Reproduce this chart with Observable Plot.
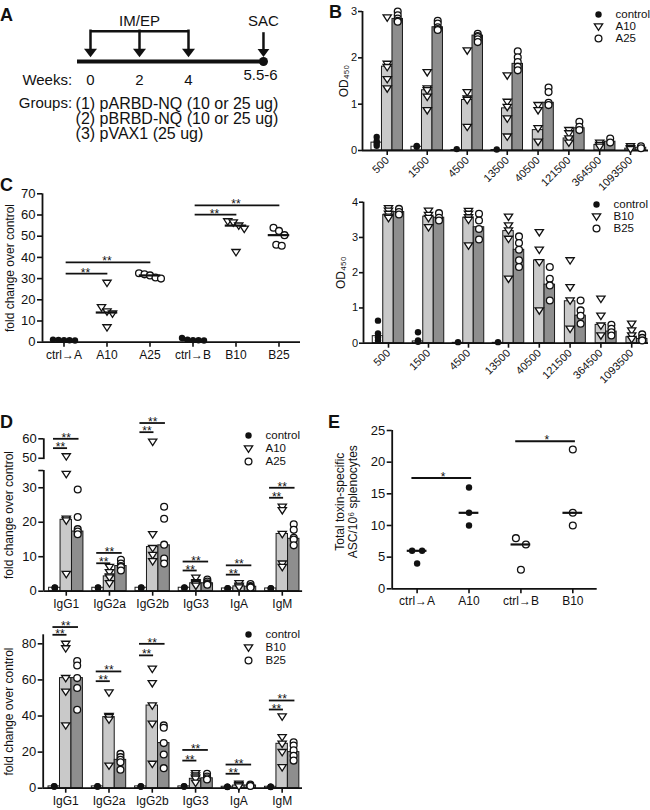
<!DOCTYPE html>
<html><head><meta charset="utf-8">
<script src="https://cdn.jsdelivr.net/npm/d3@7"></script>
<script src="https://cdn.jsdelivr.net/npm/@observablehq/plot@0.6"></script>
<style>
body{margin:0;background:#fff;}
#root{position:relative;width:650px;height:810px;font-family:"Liberation Sans",Arial,Helvetica,sans-serif;color:#111;}
#root svg{position:absolute;overflow:visible;}
.letter{position:absolute;font-weight:bold;font-size:18px;line-height:18px;}
#root svg [aria-label*="axis tick"]{stroke-width:1.6px;}
#root svg g[aria-label$="-axis"] line{stroke-width:1.6px;}
.cx [aria-label^="x-axis"] text{font-size:12px;}
.cx [aria-label^="y-axis"] text{font-size:13px;}
.bx [aria-label^="x-axis"] text{font-size:11px;}
.bx [aria-label^="y-axis"] text{font-size:11px;}
</style></head><body><div id="root"></div><script>
// ================= DATA =================
// Panel A (schedule)
const immunizationWeeks = [0, 2, 4];
const weekLabels = ["0", "2", "4"];
const sacLabel = "5.5-6";
const groupLines = ["(1) pARBD-NQ (10 or 25 ug)", "(2) pBRBD-NQ (10 or 25 ug)", "(3) pVAX1 (25 ug)"];

// Panel B (ELISA OD450 by dilution)
const dilutions = ["500","1500","4500","13500","40500","121500","364500","1093500"];
const bTopNames = ["control","A10","A25"];
const bTopControlBars = [0.17, 0.08, 0.01, 0.01, 0, 0, 0, 0];
const bTopA10Bars = [1.81, 1.3, 1.09, 0.91, 0.44, 0.26, 0.12, 0.04];
const bTopA25Bars = [2.84, 2.66, 2.48, 1.87, 1.03, 0.48, 0.19, 0.06];
const bTopControlPts = [[0.29,0.2,0.15,0.1],[0.1,0.08],[0.03],[0.02],[],[],[],[]];
const bTopA10Pts = [[2.87,1.87,1.8,1.54,1.34],[1.69,1.34,1.3,1.16,0.87],[2.16,1.26,1.12,1.09,0.51],[1.62,1.05,0.94,0.69,0.3],[0.98,0.87,0.48,0.19],[0.44,0.37,0.26,0.17],[0.17,0.12,0.08],[0.09,0.05,0.03]];
const bTopA25Pts = [[3.0,2.92,2.85,2.8,2.78],[2.8,2.74,2.66,2.62,2.6],[2.52,2.47,2.45,2.4,2.34],[2.14,2.01,1.91,1.81,1.73],[1.36,1.26,1.03,0.98],[0.62,0.51,0.44],[0.26,0.17],[0.09,0.05]];
const bTopTicks = [0, 1, 2, 3];

const bBotNames = ["control","B10","B25"];
const bBotControlBars = [0.2, 0.05, 0.01, 0.01, 0, 0, 0, 0];
const bBotB10Bars = [3.64, 3.59, 3.56, 3.18, 2.35, 1.19, 0.52, 0.17];
const bBotB25Bars = [3.72, 3.56, 3.29, 2.65, 1.66, 0.78, 0.33, 0.12];
const bBotControlPts = [[0.64,0.28,0.17,0.08],[0.31,0.08,0.04],[0.03],[0.03],[],[],[],[]];
const bBotB10Pts = [[3.83,3.76,3.67,3.59,3.55],[3.76,3.64,3.55,3.29],[3.75,3.67,3.57,3.5,2.77],[3.59,3.34,3.2,2.96,1.83],[3.15,2.65,2.3,0.93],[2.35,1.59,1.21,0.41],[1.26,0.78,0.5,0.22],[0.55,0.36,0.22,0.12]];
const bBotB25Pts = [[3.81,3.72,3.65],[3.69,3.56,3.48],[3.67,3.48,3.24,2.94],[3.03,2.84,2.65,2.35,2.16],[2.16,1.83,1.64,1.21],[1.21,0.93,0.78,0.55],[0.52,0.41,0.31,0.22],[0.25,0.15,0.08]];
const bBotTicks = [0, 1, 2, 3, 4];

// Panel C (fold change)
const cCats = ["ctrl\u2192A","A10","A25","ctrl\u2192B","B10","B25"];
const cKinds = ["ctrl","tri","circ","ctrl","tri","circ"];
const cValues = [[1.2,1.0,0.9,0.8,1.1],[28,16.5,14.5,13.5,7],[32.5,32,31.5,30.5,30],[2,1.2,1,0.9,0.8],[57,56.5,55,53.5,42.5],[54,52.5,50.5,46,45.5]];
const cMedians = [1, 14, 31.5, 1, 55, 50.5];
const cSig = [{a:0,b:1,y:32.3,label:"**"},{a:0,b:2,y:37.7,label:"**"},{a:3,b:4,y:60.2,label:"**"},{a:3,b:5,y:64.5,label:"**"}];
const cTicks = [0,10,20,30,40,50,60,70];

// Panel D (isotypes)
const dCats = ["IgG1","IgG2a","IgG2b","IgG3","IgA","IgM"];
const dTopNames = ["control","A10","A25"];
const dTopControlBars = [1, 1, 1, 1, 0.8, 0.8];
const dTopA10Bars = [20.7, 4.3, 12.8, 2.3, 1.4, 16.6];
const dTopA25Bars = [17.3, 7.3, 13.3, 2.3, 1.3, 15.2];
const dTopControlPts = [[1.1,0.9,1],[1,1.1,0.9],[1,0.9,1.1],[1,1.1,0.9],[0.8,0.9,0.7],[0.8,0.7,0.9]];
const dTopA10Pts = [[51,34,21,20.5,5],[7,5.5,4.3,4,2.3],[58.5,16.5,12.5,10.5,8.7],[3.9,2.6,2.3,2,1.6],[2.3,1.6,1.4,1.1],[24.5,23.5,16.6,8,7]];
const dTopA25Pts = [[29.5,21.5,18,17.3,16.5],[9.1,8,7.3,7,6],[24.5,21,13.5,9.5,8],[3.4,2.8,2.3,2.1,1.9],[2.1,1.5,1.3,1.1],[19.4,17.8,15.5,15,13.3]];
const dTopSig = [[55.2,60],[8.1,11.1],[63.4,68.1],[6,8.6],[4.8,7.5],[27.1,30]];
const dTopTickValues = [0,10,20,30,35,50,60];
const dTopAxisSegments = [[0,35],[49.3,60]];

const dBotNames = ["control","B10","B25"];
const dBotControlBars = [1, 1, 1, 1, 0.8, 0.8];
const dBotB10Bars = [61, 39.4, 45.8, 5.2, 1.5, 24.6];
const dBotB25Bars = [61, 15.7, 25, 5.5, 1.5, 20];
const dBotControlPts = [[1.1,0.9,1],[1,1.1,0.9],[1,0.9,1.1],[1,1.1,0.9],[0.8,0.9,0.7],[0.8,0.7,0.9]];
const dBotB10Pts = [[80,77.5,61,53.5,34.8],[53,40,39.4,38,12.5],[66.2,58.2,45.8,35.7,13.5],[8.3,7,6,5.2,3],[2.5,1.8,1.5,1],[39.7,28.3,24.6,20,11.6]];
const dBotB25Pts = [[70.5,68,61,55.5,43.5],[19,17.2,15.7,14.4,10.2],[34.8,33.5,25,18.7,11.1],[8,6.5,5.5,4.8],[2,1.5,1.2],[25.5,23.6,21,18,15.3]];
const dBotSig = [[85,89.3],[59.3,64.7],[73.6,80],[15.3,21.2],[8,13.1],[43.6,48.6]];
const dBotTicks = [0,20,40,60,80];

// Panel E (ASC)
const eCats = ["ctrl\u2192A","A10","ctrl\u2192B","B10"];
const eKinds = ["ctrl","ctrl","circ","circ"];
const eValues = [[6,6,4],[16,12,10],[8,7,3],[22,12,10]];
const eMedians = [6, 12, 7, 12];
const eSig = [{a:0,b:1,y:17.5,label:"*"},{a:2,b:3,y:23.3,label:"*"}];
const eTicks = [0,5,10,15,20,25];

// ================= HELPERS =================
const FONT = '"Liberation Sans", Arial, Helvetica, sans-serif';
const root = document.getElementById("root");
const INK = "#111";
const barFills = ["#ffffff", "#c9c9c9", "#8e8e8e"];
const baseStyle = {fontFamily: FONT, fontSize: "13px", background: "transparent", overflow: "visible", color: INK};

function tri(wf, tf, bf) {
  return {draw(ctx, size) {
    const r = Math.sqrt(size / Math.PI);
    ctx.moveTo(-wf * r, -tf * r); ctx.lineTo(wf * r, -tf * r); ctx.lineTo(0, bf * r); ctx.closePath();
  }};
}
const triDown = tri(1.15, 0.72, 1.05);
const arrowHead = tri(1.18, 0.78, 0.78);

function place(el, left, top, cls) {
  el.style.position = "absolute"; el.style.left = left + "px"; el.style.top = top + "px";
  el.style.overflow = "visible";
  if (cls) el.classList.add(cls);
  root.appendChild(el);
}
function letter(t, left, top) {
  const d = document.createElement("div"); d.className = "letter"; d.textContent = t;
  d.style.left = left + "px"; d.style.top = top + "px"; root.appendChild(d);
}
function symbolMark(rows, kind, yf) {
  const base = {x: "x", y: d => yf(d.v)};
  if (kind === "ctrl") return Plot.dot(rows, {...base, r: 3.2, fill: INK, stroke: null});
  if (kind === "tri") return Plot.dot(rows, {...base, r: 3.6, symbol: triDown, fill: "white", stroke: INK, strokeWidth: 1.3});
  return Plot.dot(rows, {...base, r: 3.4, fill: "white", stroke: INK, strokeWidth: 1.3});
}
// symmetric horizontal spreading of near-identical values (px offsets)
function spread(vals, pxPerUnit, tol, step) {
  const order = vals.map((_, i) => i).sort((a, b) => vals[b] - vals[a]);
  const off = vals.map(() => 0);
  let cl = [];
  const flush = () => { const n = cl.length; cl.forEach((j, k) => off[j] = (k - (n - 1) / 2) * step); };
  order.forEach(j => {
    if (cl.length && (vals[cl[cl.length - 1]] - vals[j]) * pxPerUnit >= tol) { flush(); cl = []; }
    cl.push(j);
  });
  flush();
  return off;
}
function legend(names, kinds, left, top, step, ml) {
  const items = names.map((n, i) => ({name: n, kind: kinds[i]}));
  const p = Plot.plot({
    width: 80, height: 8 + 2 * step + 8, marginTop: 8, marginBottom: 8, marginLeft: ml, marginRight: 0,
    y: {type: "point", domain: names, padding: 0, axis: null},
    style: baseStyle,
    marks: [
      ...["ctrl","tri","circ"].map(k => {
        const rows = items.filter(d => d.kind === k);
        const o = {y: "name", frameAnchor: "left"};
        if (k === "ctrl") return Plot.dot(rows, {...o, r: 3.2, fill: INK});
        if (k === "tri") return Plot.dot(rows, {...o, r: 3.6, symbol: triDown, fill: "white", stroke: INK, strokeWidth: 1.3});
        return Plot.dot(rows, {...o, r: 3.4, fill: "white", stroke: INK, strokeWidth: 1.3});
      }),
      Plot.text(items, {y: "name", text: "name", frameAnchor: "left", dx: 17, textAnchor: "start", fontSize: 11.5})
    ]
  });
  place(p, left - ml, top - 8);
}

// grouped bar + points chart (panels B and D)
function groupedChart(cfg) {
  const yf = cfg.yf || (v => v);
  const marks = [];
  const kinds = ["ctrl", "tri", "circ"];
  cfg.bars.forEach((arr, g) => {
    const rows = arr.map((v, i) => ({x: cfg.pos(i) + cfg.offsets[g], v})).filter(d => d.v > 0);
    marks.push(Plot.rect(rows, {x1: d => d.x - cfg.hw, x2: d => d.x + cfg.hw, y1: 0, y2: d => yf(d.v), fill: barFills[g], stroke: "#1a1a1a", strokeWidth: 1}));
  });
  marks.push(Plot.ruleY([0], {stroke: INK, strokeWidth: 1.8}));
  if (cfg.axisSegments) {
    marks.push(Plot.ruleX(cfg.axisSegments, {x: cfg.xDomain[0], y1: d => yf(d[0]), y2: d => yf(d[1]), stroke: INK, strokeWidth: 1.8}));
  } else {
    marks.push(Plot.ruleX([cfg.xDomain[0]], {stroke: INK, strokeWidth: 1.8}));
  }
  if (cfg.sig) {
    const sigRows = [];
    cfg.sig.forEach((pair, i) => {
      pair.forEach((y, k) => {
        const x1 = cfg.pos(i) + cfg.offsets[0] - 0.03, x2 = cfg.pos(i) + cfg.offsets[k + 1] + 0.03;
        sigRows.push({x1, x2, y: yf(y)});
      });
    });
    marks.push(Plot.ruleY(sigRows, {x1: "x1", x2: "x2", y: "y", stroke: INK, strokeWidth: 1.8}));
    marks.push(Plot.text(sigRows, {x: d => (d.x1 + d.x2) / 2, y: "y", text: () => "**", lineAnchor: "bottom", dy: 3, fontSize: 12}));
  }
  cfg.points.forEach((mat, g) => {
    const rows = [];
    mat.forEach((vals, i) => vals.forEach(v => rows.push({x: cfg.pos(i) + cfg.offsets[g], v})));
    marks.push(symbolMark(rows, kinds[g], yf));
  });
  marks.push(Plot.text([cfg.yLabel], {text: d => d, frameAnchor: "left", rotate: -90, dx: cfg.yLabelDx, fontSize: 12, textAnchor: "middle", lineAnchor: "middle"}));
  const tickPos = cfg.cats.map((_, i) => cfg.pos(i));
  const p = Plot.plot({
    width: cfg.width, height: cfg.height,
    marginTop: cfg.mt, marginRight: cfg.mr, marginBottom: cfg.mb, marginLeft: cfg.ml,
    x: {domain: cfg.xDomain, ticks: tickPos, tickFormat: d => cfg.cats[tickPos.indexOf(d)], tickSize: 5, tickPadding: 3, tickRotate: cfg.tickRotate || 0, label: null},
    y: {domain: cfg.yDomain, ticks: cfg.yTicks, tickFormat: cfg.yTickFormat || (d => String(d)), tickSize: cfg.yTickSize || 5, tickPadding: cfg.yTickPadding || 2, label: null},
    style: baseStyle,
    marks
  });
  place(p, cfg.left, cfg.top, cfg.cls);
}

// dot plot with median (panels C and E)
function dotChart(cfg) {
  const rows = [];
  cfg.values.forEach((vals, i) => {
    const off = spread(vals, cfg.pxPerUnitY, cfg.tol, cfg.step);
    vals.forEach((v, k) => rows.push({x: i + off[k] / cfg.pxPerUnitX, v, kind: cfg.kinds[i]}));
  });
  const marks = [
    Plot.ruleY([0], {stroke: INK, strokeWidth: 1.8}),
    Plot.ruleX([cfg.xDomain[0]], {stroke: INK, strokeWidth: 1.8}),
    Plot.ruleY(cfg.sig, {x1: d => d.a + cfg.sigPad[0], x2: d => d.b + cfg.sigPad[1], y: "y", stroke: INK, strokeWidth: 1.8}),
    Plot.text(cfg.sig, {x: d => (d.a + d.b) / 2, y: "y", text: "label", lineAnchor: "bottom", dy: 3, fontSize: 12}),
    ...["ctrl","tri","circ"].map(k => symbolMark(rows.filter(d => d.kind === k), k, v => v)),
    Plot.ruleY(cfg.medians.map((v, i) => ({i, v})), {x1: d => d.i - cfg.medHw, x2: d => d.i + cfg.medHw, y: "v", stroke: INK, strokeWidth: 2.2}),
    Plot.text([cfg.yLabel], {text: d => d, frameAnchor: "left", rotate: -90, dx: cfg.yLabelDx, dy: cfg.yLabelDy || 0, fontSize: 12, textAnchor: "middle", lineAnchor: "middle", lineHeight: 1.1})
  ];
  const p = Plot.plot({
    width: cfg.width, height: cfg.height,
    marginTop: cfg.mt, marginRight: cfg.mr, marginBottom: cfg.mb, marginLeft: cfg.ml,
    x: {domain: cfg.xDomain, ticks: cfg.cats.map((_, i) => i), tickFormat: i => cfg.cats[i], tickSize: 5, tickPadding: 3, label: null},
    y: {domain: cfg.yDomain, ticks: cfg.yTicks, tickFormat: d => String(d), tickSize: 5, tickPadding: 2, label: null},
    style: baseStyle,
    marks
  });
  place(p, cfg.left, cfg.top, "cx");
}

// ================= PANEL A =================
{
  const L = {titleY: 21, bracketY: 30.7, stemEndY: 49, headY: 52.5, lineY: 61, weeksY: 80, sacLabelY: 75, groupsY: [103, 118, 133], lineStart: -0.53, sacPos: 7.06, labelEnd: -0.75, textStart: -0.61};
  const pxPerWeek = 24.5, week0 = 90;
  const p = Plot.plot({
    width: 300, height: 145, margin: 0,
    x: {domain: [-week0 / pxPerWeek, (300 - week0) / pxPerWeek], axis: null},
    y: {domain: [145, 0], axis: null},
    style: baseStyle,
    marks: [
      Plot.ruleY([L.lineY], {x1: L.lineStart, x2: L.sacPos, stroke: INK, strokeWidth: 4}),
      Plot.ruleY([L.bracketY], {x1: immunizationWeeks[0], x2: immunizationWeeks[immunizationWeeks.length - 1], stroke: INK, strokeWidth: 2.5}),
      Plot.ruleX(immunizationWeeks, {x: d => d, y1: L.bracketY - 1.2, y2: L.stemEndY, stroke: INK, strokeWidth: 2.5}),
      Plot.dot(immunizationWeeks, {x: d => d, y: L.headY, symbol: arrowHead, r: 5.5, fill: INK}),
      Plot.ruleX([L.sacPos], {y1: L.bracketY + 1.5, y2: L.stemEndY, stroke: INK, strokeWidth: 2.5}),
      Plot.dot([L.sacPos], {x: d => d, y: L.headY, symbol: arrowHead, r: 5, fill: INK}),
      Plot.dot([L.sacPos], {x: d => d, y: L.lineY, r: 4.5, fill: INK}),
      Plot.text(["IM/EP"], {x: (immunizationWeeks[0] + immunizationWeeks[2]) / 2, y: L.titleY, text: d => d, fontSize: 15}),
      Plot.text(["SAC"], {x: L.sacPos, y: L.titleY, text: d => d, fontSize: 15}),
      Plot.text(["Weeks:"], {x: L.labelEnd, y: L.weeksY, text: d => d, textAnchor: "end", fontSize: 15}),
      Plot.text(immunizationWeeks, {x: d => d, y: L.weeksY, text: (d, i) => weekLabels[i], fontSize: 15}),
      Plot.text([sacLabel], {x: L.sacPos - 0.12, y: L.sacLabelY, text: d => d, fontSize: 15}),
      Plot.text(["Groups:"], {x: L.labelEnd, y: L.groupsY[0], text: d => d, textAnchor: "end", fontSize: 15}),
      Plot.text(groupLines, {x: L.textStart, y: (d, i) => L.groupsY[i], text: d => d, textAnchor: "start", fontSize: 16})
    ]
  });
  place(p, 0, 0);
}

// ================= PANEL B =================
const bPos = i => i <= 3 ? i : 3 + (i - 3) * 0.77;
groupedChart({
  left: 300, top: 0, width: 350, height: 195, mt: 11, mb: 45, ml: 62, mr: 2,
  cats: dilutions, pos: bPos, xDomain: [-0.6175, 6.53], offsets: [-0.2625, 0, 0.2625], hw: 0.131,
  bars: [bTopControlBars, bTopA10Bars, bTopA25Bars], points: [bTopControlPts, bTopA10Pts, bTopA25Pts],
  yDomain: [0, 3], yTicks: bTopTicks, yTickSize: 4, yTickPadding: 1.5, tickRotate: -45,
  yLabel: "OD\u2084\u2085\u2080", yLabelDx: -18, cls: "bx"
});
legend(bTopNames, ["ctrl","tri","circ"], 598, 13.5, 12.3, 8);
groupedChart({
  left: 300, top: 190, width: 350, height: 195, mt: 11.7, mb: 42.3, ml: 63, mr: 2,
  cats: dilutions, pos: bPos, xDomain: [-0.625, 6.5], offsets: [-0.2625, 0, 0.2625], hw: 0.131,
  bars: [bBotControlBars, bBotB10Bars, bBotB25Bars], points: [bBotControlPts, bBotB10Pts, bBotB25Pts],
  yDomain: [0, 4], yTicks: bBotTicks, yTickSize: 4, yTickPadding: 1.5, tickRotate: -45,
  yLabel: "OD\u2084\u2085\u2080", yLabelDx: -22, cls: "bx"
});
legend(bBotNames, ["ctrl","tri","circ"], 596, 202.7, 12.8, 8);

// ================= PANEL C =================
dotChart({
  left: 0, top: 180, width: 310, height: 200, mt: 13.3, mb: 38.3, ml: 42, mr: 10,
  cats: cCats, kinds: cKinds, values: cValues, medians: cMedians, sig: cSig, sigPad: [0.05, 0.02],
  xDomain: [-0.5, 5.5], yDomain: [0, 70], yTicks: cTicks,
  pxPerUnitY: 2.12, pxPerUnitX: 43, tol: 6, step: 5.5, medHw: 0.25,
  yLabel: "fold change over control", yLabelDx: -33
});

// ================= PANEL D =================
const brk = v => v <= 40 ? v : 38.55 + (v - 50) * 0.565;
const dTopTickMap = new Map(dTopTickValues.map(v => [brk(v), v === 35 ? "" : String(v)]));
groupedChart({
  left: 0, top: 405, width: 310, height: 215, mt: 33.3, mb: 29.3, ml: 43.3, mr: 7.9,
  cats: dCats, pos: i => i, xDomain: [-0.52, 5.47], offsets: [-0.265, 0, 0.265], hw: 0.132,
  bars: [dTopControlBars, dTopA10Bars, dTopA25Bars], points: [dTopControlPts, dTopA10Pts, dTopA25Pts],
  yf: brk, yDomain: [0, brk(60)], yTicks: dTopTickValues.map(brk), yTickFormat: t => dTopTickMap.get(t),
  axisSegments: dTopAxisSegments, sig: dTopSig,
  yLabel: "fold change over control", yLabelDx: -35, cls: "cx"
});
legend(dTopNames, ["ctrl","tri","circ"], 248, 434.3, 13.7, 8);
groupedChart({
  left: 0, top: 615, width: 310, height: 195, mt: 19.3, mb: 22.3, ml: 42.7, mr: 8,
  cats: dCats, pos: i => i, xDomain: [-0.52, 5.47], offsets: [-0.265, 0, 0.265], hw: 0.132,
  bars: [dBotControlBars, dBotB10Bars, dBotB25Bars], points: [dBotControlPts, dBotB10Pts, dBotB25Pts],
  yDomain: [0, 85], yTicks: dBotTicks, sig: dBotSig,
  yLabel: "fold change over control", yLabelDx: -34.5, cls: "cx"
});
legend(dBotNames, ["ctrl","tri","circ"], 248, 633.3, 13.7, 8);

// ================= PANEL E =================
dotChart({
  left: 330, top: 415, width: 280, height: 200, mt: 15, mb: 26.7, ml: 61.7, mr: 13.3,
  cats: eCats, kinds: eKinds, values: eValues, medians: eMedians, sig: eSig, sigPad: [-0.1, 0.05],
  xDomain: [-0.48, 3.47], yDomain: [0, 25], yTicks: eTicks,
  pxPerUnitY: 6.33, pxPerUnitX: 51.9, tol: 7, step: 10, medHw: 0.19,
  yLabel: "Total toxin-specific\nASC/10\u2076 splenocytes", yLabelDx: -45.7, yLabelDy: -8
});

// panel letters
letter("A", 0, 6); letter("B", 329, 2.6); letter("C", 0, 176); letter("D", 0, 412.6); letter("E", 328, 412.6);
</script></body></html>
